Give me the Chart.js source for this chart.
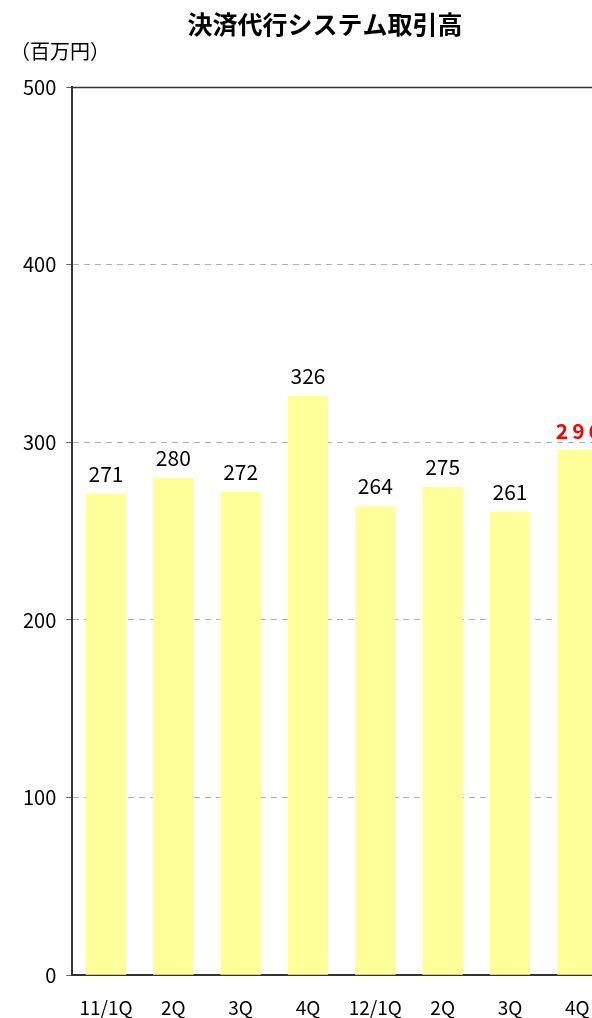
<!DOCTYPE html>
<html>
<head>
<meta charset="utf-8">
<script src="https://cdn.jsdelivr.net/npm/chart.js@4.4.1/dist/chart.umd.min.js"></script>
<style>
  html, body { margin: 0; padding: 0; background: #fff; overflow: hidden; width: 592px; height: 1018px; }
  canvas { position: absolute; left: 0; top: 0; }
</style>
</head>
<body>
<canvas id="c" width="650" height="1040"></canvas>
<script>
const chartTitle = '決済代行システム取引高';
const unitLabel = '（百万円）';
const categories = ['11/1Q', '2Q', '3Q', '4Q', '12/1Q', '2Q', '3Q', '4Q'];
const values = [271, 280, 272, 326, 264, 275, 261, 296];
const highlightIndex = 7;
const yMin = 0, yMax = 500, yStep = 100;

const FONT = '"Noto Sans CJK JP", "Noto Sans", sans-serif';

const overlay = {
  id: 'overlay',
  afterDraw(chart) {
    const ctx = chart.ctx;
    const y = chart.scales.y;
    const area = chart.chartArea;
    ctx.save();
    ctx.strokeStyle = '#333';
    ctx.lineWidth = 1.5;
    ctx.beginPath();
    const yt = Math.round(y.getPixelForValue(yMax)) + 0.5;
    ctx.moveTo(area.left, yt);
    ctx.lineTo(area.right + 40, yt);
    ctx.stroke();
    ctx.fillStyle = '#000';
    ctx.font = 'bold 25px ' + FONT;
    ctx.textAlign = 'center';
    ctx.textBaseline = 'middle';
    ctx.fillText(chartTitle, 325, 24);
    ctx.font = '20px ' + FONT;
    ctx.textAlign = 'left';
    ctx.fillText(unitLabel, 10, 51);
    const meta = chart.getDatasetMeta(0);
    meta.data.forEach((bar, i) => {
      ctx.textAlign = 'center';
      ctx.textBaseline = 'alphabetic';
      if (i === highlightIndex) {
        ctx.fillStyle = '#ff0000';
        ctx.font = 'bold 21px ' + FONT;
        ctx.letterSpacing = '4px';
        ctx.fillText(String(values[i]), bar.x + 3, bar.y - 10);
        ctx.letterSpacing = '0px';
      } else {
        ctx.fillStyle = '#000';
        ctx.font = '21px ' + FONT;
        ctx.fillText(String(values[i]), bar.x, bar.y - 12);
      }
    });
    ctx.restore();
  }
};

new Chart(document.getElementById('c'), {
  type: 'bar',
  data: {
    labels: categories,
    datasets: [{
      data: values,
      backgroundColor: '#ffff99',
      borderWidth: 0,
      categoryPercentage: 1.0,
      barPercentage: 0.6
    }]
  },
  options: {
    responsive: false,
    devicePixelRatio: 1,
    animation: false,
    layout: { padding: { top: 87, left: 13, right: 39, bottom: 0 } },
    plugins: { legend: { display: false }, title: { display: false }, tooltip: { enabled: false } },
    scales: {
      x: {
        grid: { display: false, drawTicks: false },
        border: { display: true, color: '#333', width: 2 },
        ticks: { color: '#000', font: { family: FONT, size: 19 }, padding: 21, maxRotation: 0, autoSkip: false }
      },
      y: {
        min: yMin, max: yMax,
        ticks: { stepSize: yStep, color: '#000', font: { family: FONT, size: 20 }, padding: 10 },
        grid: { color: '#b0b0b0', lineWidth: 1, drawTicks: true, tickLength: 6, tickColor: '#666', tickBorderDash: [] },
        border: { display: true, color: '#333', width: 2, dash: [6, 5] }
      }
    }
  },
  plugins: [overlay]
});
</script>
</body>
</html>
